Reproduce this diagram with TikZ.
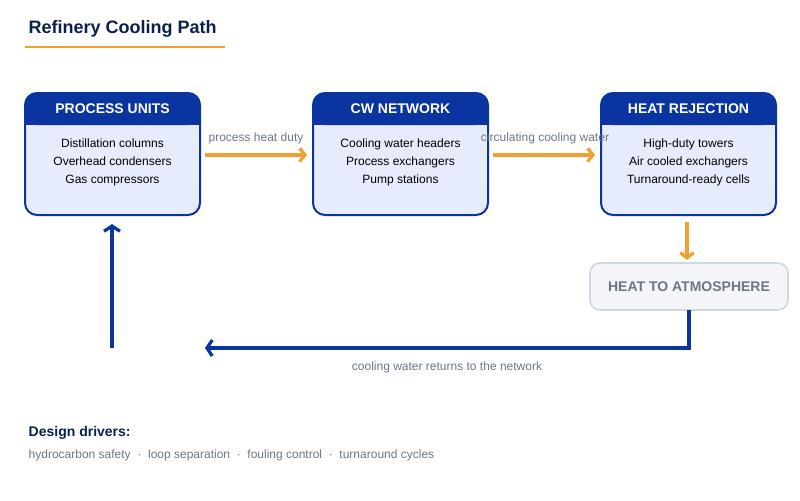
\documentclass[tikz,border=0pt]{standalone}
\usepackage{fontspec}
\setmainfont{Liberation Sans}
\usetikzlibrary{arrows.meta}
\definecolor{navy}{HTML}{0B1F4F}
\definecolor{hblue}{HTML}{0A35A0}
\definecolor{lblue}{HTML}{E6ECFB}
\definecolor{orng}{HTML}{F0A030}
\definecolor{gtxt}{HTML}{6B7785}
\definecolor{atmfill}{HTML}{F3F5F8}
\definecolor{atmline}{HTML}{D0D8E0}
\tikzset{
 body/.style={draw=hblue,line width=1.5pt,fill=lblue,rounded corners=12*0.75pt},
 head/.style={font=\bfseries\fontsize{10.5}{12}\selectfont,text=white},
 btext/.style={font=\fontsize{9}{13.5}\selectfont,align=center,text=black},
 oarrow/.style={draw=orng,line width=2.4pt,-{Straight Barb[length=4pt,width=10pt]}},
 barrow/.style={draw=hblue,line width=2.4pt,-{Straight Barb[length=4pt,width=12pt]}},
 lbl/.style={font=\fontsize{9}{11}\selectfont,text=gtxt},
}
\begin{document}
\begin{tikzpicture}[x=0.75pt,y=-0.75pt]
\useasboundingbox (0,0) rectangle (800,500);
\node[anchor=west,font=\bfseries\fontsize{13.5}{16}\selectfont,text=navy] (title) at (24,29) {Refinery Cooling Path};
\draw[orng,line width=2pt] (25,47) -- (225,47);
% boxes
\foreach \n/\x/\h/\t in {pu/25/PROCESS UNITS/{Distillation columns\\Overhead condensers\\Gas compressors},
 cw/313/CW NETWORK/{Cooling water headers\\Process exchangers\\Pump stations},
 hr/601/HEAT REJECTION/{High-duty towers\\Air cooled exchangers\\Turnaround-ready cells}}{
 \begin{scope}
 \draw[body] (\x,93) rectangle ++(175,122);
 \fill[hblue,rounded corners=12*0.75pt] (\x,93) -- ++(175,0) -- ++(0,32) -- ++(-175,0) -- cycle;
 \fill[hblue] (\x,112) rectangle ++(175,13);
 \node[head] (\n h) at (\x+87.5,109) {\h};
 \node[btext,anchor=north] (\n) at (\x+87.5,134) {\t};
 \end{scope}
}
\node[draw=atmline,line width=1.2pt,fill=atmfill,rounded corners=10*0.75pt,minimum width=198*0.75pt,minimum height=47*0.75pt,font=\bfseries\fontsize{10.5}{12}\selectfont,text=gtxt] (atm) at (689,286.5) {HEAT TO ATMOSPHERE};
\coordinate (a1s) at (205,155); \coordinate (a1e) at (307,155);
\coordinate (a2s) at (493,155); \coordinate (a2e) at (595,155);
\coordinate (a3s) at (687,222); \coordinate (a3e) at (687,260);
\draw[oarrow] (a1s) -- (a1e);
\draw[oarrow] (a2s) -- (a2e);
\draw[oarrow] (a3s) -- (a3e);
\node[lbl] (l1) at (256,138) {process heat duty};
\node[lbl] (l2) at (545,138) {circulating cooling water};
\coordinate (r0) at (689,310); \coordinate (r1) at (689,348); \coordinate (r2) at (205,348);
\draw[barrow,line join=miter] (r0) -- (r1) -- (r2);
\coordinate (v0) at (112,348); \coordinate (v1) at (112,224);
\draw[barrow] (v0) -- (v1);
\node[lbl] (l3) at (447,367) {cooling water returns to the network};
\node[anchor=west,font=\bfseries\fontsize{10.5}{12}\selectfont,text=navy] (dd) at (24,433) {Design drivers:};
\node[anchor=west,lbl] (dl) at (24,455) {hydrocarbon safety \ \textperiodcentered\ \ loop separation \ \textperiodcentered\ \ fouling control \ \textperiodcentered\ \ turnaround cycles};
\end{tikzpicture}
\end{document}
